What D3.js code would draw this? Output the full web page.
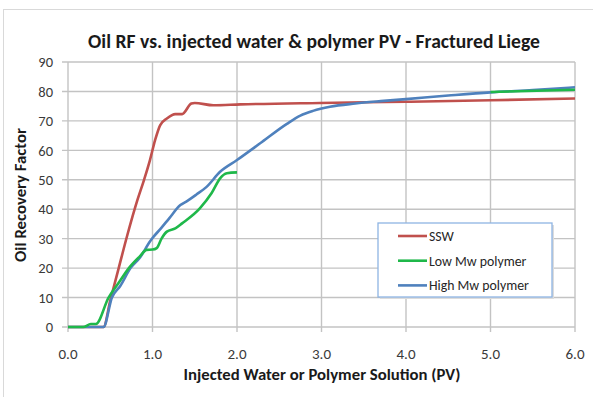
<!DOCTYPE html>
<html>
<head>
<meta charset="utf-8">
<script src="https://cdn.jsdelivr.net/npm/d3@7"></script>
<style>
  body { margin: 0; background: #fff; }
  text { font-family: Carlito, Lato, "Open Sans", sans-serif; }
</style>
</head>
<body>
<div id="chart"></div>
<script>
// Injected PV and oil recovery factor
const sswX = [0, 0.2, 0.42, 0.5, 0.6, 0.7, 0.82, 0.9, 0.97, 1.03, 1.09, 1.17, 1.27, 1.35, 1.46, 1.5, 1.72, 2.04, 2.98, 4.0, 5.0, 6.0];
const sswY = [0, 0, 0, 9, 20, 31, 43, 50, 56.7, 63.4, 68.5, 70.8, 72.3, 72.3, 75.9, 76.1, 75.3, 75.6, 76.1, 76.5, 77.0, 77.6];

const lowX = [0, 0.18, 0.27, 0.33, 0.48, 0.6, 0.72, 0.85, 0.93, 1.0, 1.05, 1.11, 1.17, 1.27, 1.35, 1.56, 1.7, 1.8, 1.88, 2.0, null, 5.0, 6.0];
const lowY = [0, 0, 1, 1, 10, 15, 20, 24, 26.2, 26.3, 26.8, 30.2, 32.4, 33.5, 35.2, 40.3, 45.5, 50.5, 52.2, 52.5, null, 79.8, 80.6];

const highX = [0, 0.2, 0.42, 0.52, 0.62, 0.74, 0.85, 0.97, 1.0, 1.1, 1.2, 1.33, 1.4, 1.52, 1.64, 1.8, 2.0, 2.27, 2.59, 2.75, 2.9, 3.1, 3.4, 3.7, 4.0, 4.5, 5.0, 5.5, 6.0];
const highY = [0, 0, 0, 10, 14, 20, 23.5, 29, 30.2, 33.5, 37, 41.4, 42.6, 45, 47.6, 52.7, 56.7, 62.3, 69, 71.8, 73.4, 74.8, 75.9, 76.7, 77.4, 78.6, 79.7, 80.5, 81.4];

const seriesNames = ['SSW', 'Low Mw polymer', 'High Mw polymer'];
const seriesColors = ['#c0504d', '#1fb84a', '#4f81bd'];
const xTicks = [0, 1, 2, 3, 4, 5, 6];
const yTicks = [0, 10, 20, 30, 40, 50, 60, 70, 80, 90];

const width = 593, height = 397;
const margin = { top: 62, right: 18, bottom: 70, left: 68 };

const svg = d3.select('#chart').append('svg')
  .attr('width', width)
  .attr('height', height);

// scale a text's font so it spans the given width
function fitWidth(sel, w) {
  const len = sel.node().getComputedTextLength();
  const fs = parseFloat(sel.attr('font-size'));
  sel.attr('font-size', fs * w / len);
}

// chart frame
svg.append('rect')
  .attr('x', 3.5).attr('y', 9.5)
  .attr('width', width + 10).attr('height', height + 10)
  .attr('fill', '#fff').attr('stroke', '#d9d9d9');

const x = d3.scaleLinear().domain([0, 6]).range([margin.left, width - margin.right]);
const y = d3.scaleLinear().domain([0, 90]).range([height - margin.bottom, margin.top]);

// grid
svg.append('g')
  .selectAll('line')
  .data(yTicks)
  .enter().append('line')
  .attr('x1', x(0) - 6).attr('x2', x(6))
  .attr('y1', d => y(d)).attr('y2', d => y(d))
  .attr('stroke', '#c3c3c3').attr('stroke-width', 1.4);

svg.append('g')
  .selectAll('line')
  .data(xTicks)
  .enter().append('line')
  .attr('x1', d => x(d)).attr('x2', d => x(d))
  .attr('y1', y(90)).attr('y2', y(0) + 5)
  .attr('stroke', '#c3c3c3').attr('stroke-width', 1.4);

// tick labels
svg.append('g')
  .selectAll('text')
  .data(yTicks)
  .enter().append('text')
  .attr('x', x(0) - 15)
  .attr('y', d => y(d))
  .attr('dy', '0.36em')
  .attr('text-anchor', 'end')
  .attr('font-size', 14.5)
  .attr('fill', '#3a3a3a')
  .text(d => d);

svg.append('g')
  .selectAll('text')
  .data(xTicks)
  .enter().append('text')
  .attr('x', d => x(d))
  .attr('y', 359)
  .attr('text-anchor', 'middle')
  .attr('font-size', 15)
  .attr('fill', '#3a3a3a')
  .text(d => d3.format('.1f')(d));

// titles
const title = svg.append('text')
  .attr('x', 314).attr('y', 48)
  .attr('text-anchor', 'middle')
  .attr('font-size', 18)
  .attr('font-weight', 'bold')
  .attr('fill', '#1a1a1a')
  .text('Oil RF vs. injected water & polymer PV - Fractured Liege');
fitWidth(title, 452);

const xTitle = svg.append('text')
  .attr('x', 322).attr('y', 380)
  .attr('text-anchor', 'middle')
  .attr('font-size', 15)
  .attr('font-weight', 'bold')
  .attr('fill', '#1a1a1a')
  .text('Injected Water or Polymer Solution (PV)');
fitWidth(xTitle, 277);

const yTitle = svg.append('text')
  .attr('transform', 'translate(26,195) rotate(-90)')
  .attr('text-anchor', 'middle')
  .attr('font-size', 14)
  .attr('font-weight', 'bold')
  .attr('fill', '#1a1a1a')
  .text('Oil Recovery Factor');
fitWidth(yTitle, 134);

// series
const series = [
  { xs: sswX, ys: sswY },
  { xs: lowX, ys: lowY },
  { xs: highX, ys: highY }
];

const line = d3.line()
  .defined(d => d[0] !== null)
  .x(d => x(d[0]))
  .y(d => y(d[1]))
  .curve(d3.curveMonotoneX);

[0, 2, 1].forEach(i => {
  const pts = series[i].xs.map((v, k) => [v, series[i].ys[k]]);
  svg.append('path')
    .datum(pts)
    .attr('fill', 'none')
    .attr('stroke', seriesColors[i])
    .attr('stroke-width', 2.6)
    .attr('stroke-linejoin', 'round')
    .attr('d', line);
});

// legend
const lg = svg.append('g').attr('transform', 'translate(378,223)');
lg.append('rect')
  .attr('x', 2).attr('y', 2)
  .attr('width', 174).attr('height', 74)
  .attr('fill', '#dcdcdc');
lg.append('rect')
  .attr('width', 174).attr('height', 74)
  .attr('fill', '#fff')
  .attr('stroke', '#8eb4e3').attr('stroke-width', 1.3);

seriesNames.forEach((name, i) => {
  const yy = 13 + i * 24.7;
  lg.append('line')
    .attr('x1', 20).attr('x2', 49)
    .attr('y1', yy).attr('y2', yy)
    .attr('stroke', seriesColors[i]).attr('stroke-width', 2.6);
  const t = lg.append('text')
    .attr('x', 51).attr('y', yy)
    .attr('dy', '0.35em')
    .attr('font-size', 13)
    .attr('fill', '#262626')
    .text(name);
  if (i === 2) fitWidth(t, 100);
});
lg.selectAll('text').attr('font-size', lg.selectAll('text').filter((d, i) => i === 2).attr('font-size'));
</script>
</body>
</html>
